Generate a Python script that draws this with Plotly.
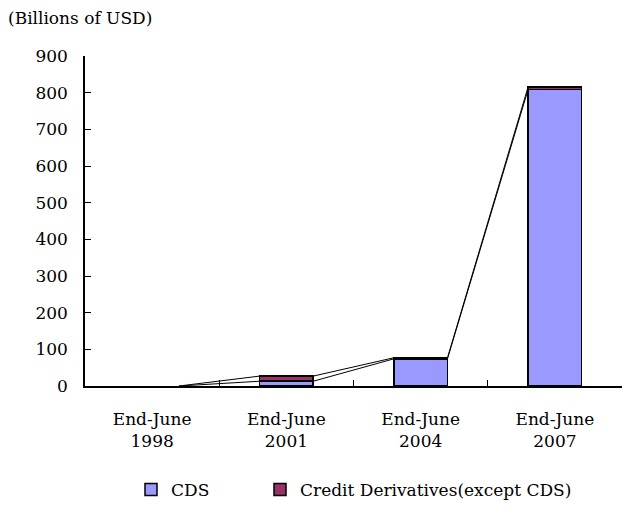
import plotly.graph_objects as go

# Outstanding credit derivatives, billions of USD
periods = ["End-June<br>1998", "End-June<br>2001", "End-June<br>2004", "End-June<br>2007"]
cds = [0, 13, 74, 808]
other_credit = [0, 14, 3, 7]

bar_width = 0.4
xs = list(range(len(periods)))
cum_cds = cds
cum_total = [a + b for a, b in zip(cds, other_credit)]

fig = go.Figure()

# Series lines joining the tops of each stack segment between neighbouring bars
for tops in (cum_cds, cum_total):
    lx, ly = [], []
    for i in range(len(xs) - 1):
        lx += [xs[i] + bar_width / 2, xs[i + 1] - bar_width / 2, None]
        ly += [tops[i], tops[i + 1], None]
    fig.add_trace(go.Scatter(x=lx, y=ly, mode="lines", line=dict(color="black", width=1),
                             showlegend=False, hoverinfo="skip"))


def visible(values):
    # empty segments are left undrawn so no outline shows on the axis
    return [v if v else None for v in values]


fig.add_trace(go.Bar(x=xs, y=visible(cds), name="CDS", width=bar_width, legend="legend",
                     marker=dict(color="#9999FF", line=dict(color="black", width=1.5))))
fig.add_trace(go.Bar(x=xs, y=visible(other_credit), name="Credit Derivatives(except CDS)",
                     width=bar_width, legend="legend2",
                     marker=dict(color="#993366", line=dict(color="black", width=1.5))))

serif = "DejaVu Serif"
legend_y = (386 - 490) / 330
fig.update_layout(
    width=623, height=507,
    barmode="stack",
    plot_bgcolor="white", paper_bgcolor="white",
    margin=dict(l=85, r=1, t=56, b=121, autoexpand=False),
    font=dict(family=serif, size=17, color="black"),
    title=dict(text="(Billions of USD)", x=8 / 623, xanchor="left",
               y=1 - 18 / 507, yanchor="middle", font=dict(family=serif, size=17)),
    xaxis=dict(range=[-0.5, len(periods) - 0.5], tickvals=xs, ticktext=periods,
               ticks="", showline=True, linecolor="black", linewidth=1.5,
               showgrid=False, zeroline=False, tickfont=dict(size=17),
               ticklabelstandoff=17,
               minor=dict(tickvals=[i + 0.5 for i in xs[:-1]], ticks="inside",
                          ticklen=6, tickcolor="black", tickwidth=1, showgrid=False)),
    yaxis=dict(range=[0, 900], dtick=100, ticks="inside", ticklen=6, tickcolor="black",
               showline=True, linecolor="black", linewidth=1.5, showgrid=False,
               zeroline=False, ticklabelstandoff=12, tickfont=dict(size=17)),
    legend=dict(orientation="h", x=(151 - 20 - 85) / 537, xanchor="left",
                y=legend_y, yanchor="middle", font=dict(size=17), itemwidth=30),
    legend2=dict(orientation="h", x=(280 - 20 - 85) / 537, xanchor="left",
                 y=legend_y, yanchor="middle", font=dict(size=17), itemwidth=30),
    showlegend=True,
)

fig.write_html("out.html")
